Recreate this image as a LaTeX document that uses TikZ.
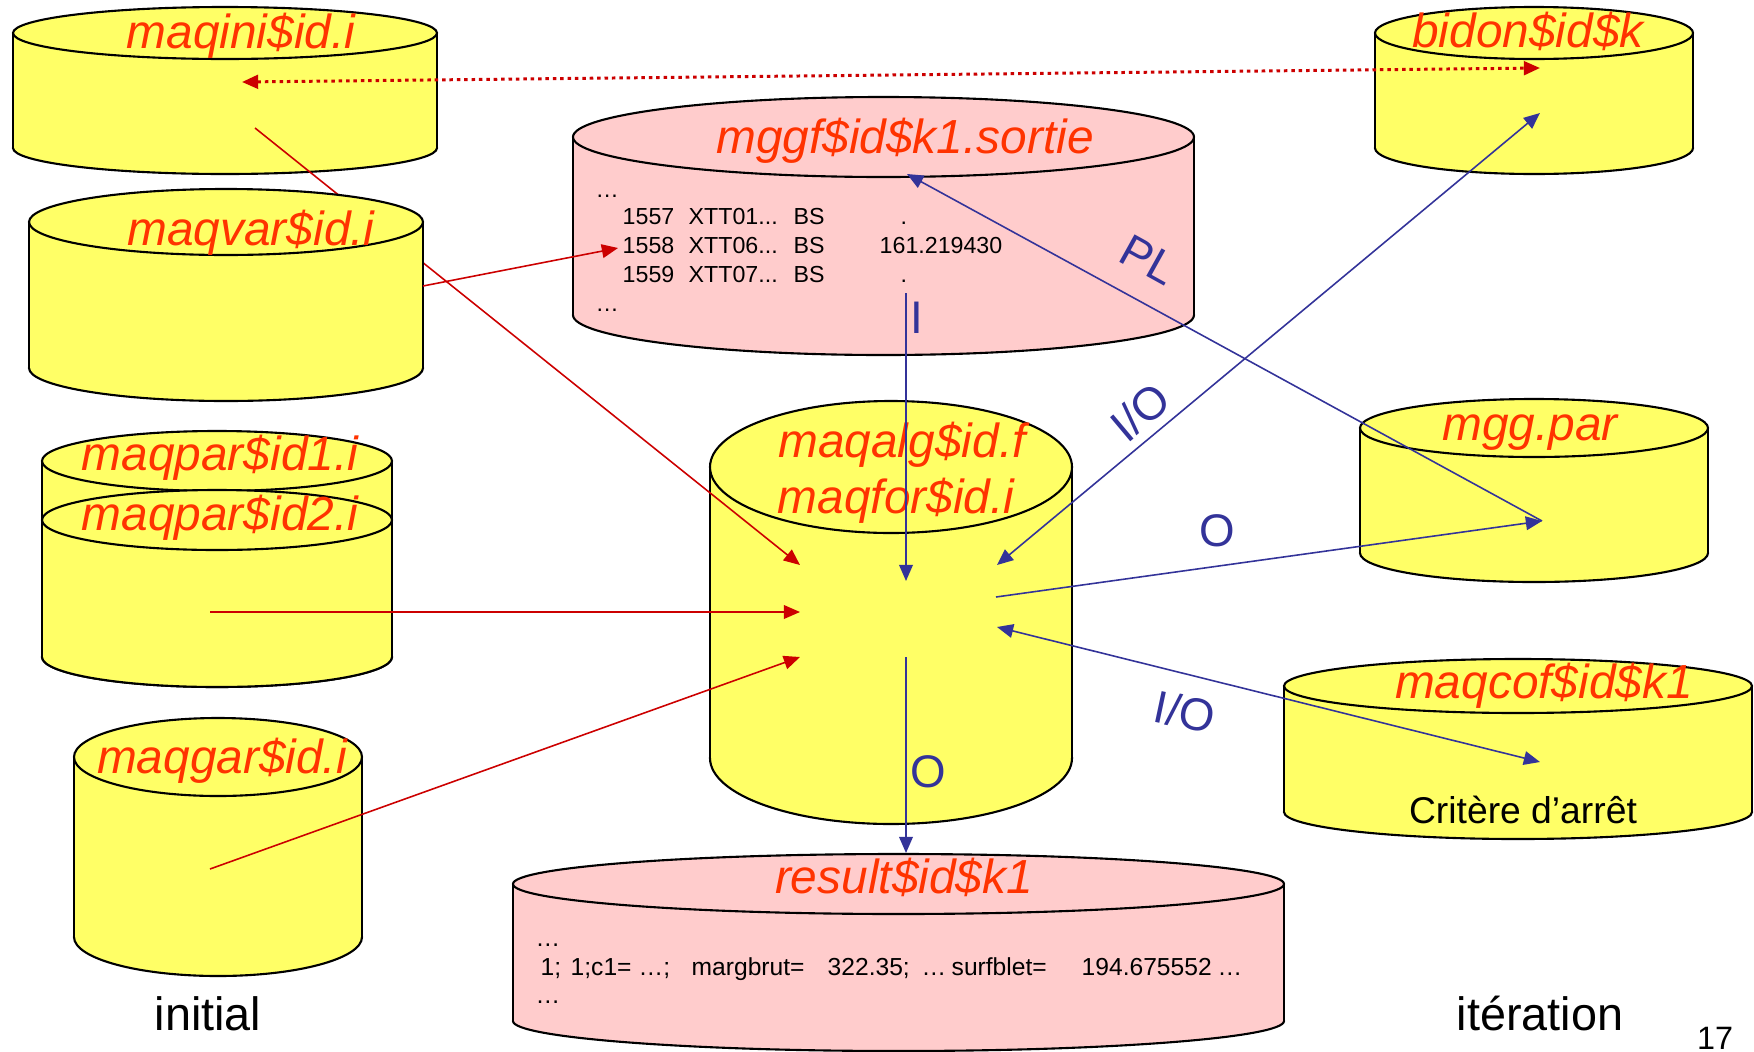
\documentclass[tikz,border=0pt]{standalone}
\usepackage{fontspec}
\setmainfont{Liberation Sans}
\usetikzlibrary{arrows.meta}

\definecolor{drumyellow}{RGB}{255,255,102}
\definecolor{drumpink}{RGB}{255,204,204}
\definecolor{labelred}{RGB}{255,51,0}
\definecolor{flowred}{RGB}{204,0,0}
\definecolor{flowblue}{RGB}{51,51,153}

% Drum (disk file) symbol: #1 centre x, #2 top y, #3 bottom y, #4 x radius, #5 y radius, #6 fill
\newcommand\drum[6]{%
  \filldraw[drumline, fill=#6] (#1,#3) ellipse [x radius=#4, y radius=#5];
  \fill[#6] (#1-#4,#2) rectangle (#1+#4,#3);
  \draw[drumline] (#1-#4,#2) -- (#1-#4,#3) (#1+#4,#2) -- (#1+#4,#3);
  \filldraw[drumline, fill=#6] (#1,#2) ellipse [x radius=#4, y radius=#5];
}

\begin{document}
\begin{tikzpicture}[x=0.01cm, y={(0,-0.01cm)},
  drumline/.style={draw=black, line width=0.6pt},
  filelab/.style={anchor=base, inner sep=0pt, text=labelred,
    font=\fontsize{13.6}{16}\selectfont\itshape},
  plainlab/.style={anchor=base, inner sep=0pt,
    font=\fontsize{13.3}{16}\selectfont},
  flowlab/.style={inner sep=0pt, text=flowblue,
    font=\fontsize{13}{16}\selectfont},
  listing/.style={anchor=base west, inner sep=0pt,
    font=\fontsize{6.6}{8}\selectfont},
  reslisting/.style={anchor=base west, inner sep=0pt,
    font=\fontsize{7}{8}\selectfont},
  tip/.style={-{Triangle[length=4.6pt,width=3.9pt]}},
  bothtips/.style={{Triangle[length=4.6pt,width=3.9pt]}-{Triangle[length=4.6pt,width=3.9pt]}},
  redflow/.style={draw=flowred, line width=0.45pt},
  blueflow/.style={draw=flowblue, line width=0.45pt},
]
\path[use as bounding box] (0,0) rectangle (1754,1051);

% ---- connection points inside the drums
\coordinate (ini-dot)  at (242,82);
\coordinate (ini-out)  at (255,128);
\coordinate (var-out)  at (423,286);
\coordinate (par-out)  at (210,612);
\coordinate (gar-out)  at (210,869);
\coordinate (alg-in1)  at (800,565);
\coordinate (alg-in2)  at (800,612);
\coordinate (alg-in3)  at (800,657);
\coordinate (alg-top)  at (906,581);
\coordinate (alg-bot)  at (906,657);
\coordinate (alg-r1)   at (997,565);
\coordinate (alg-r2)   at (996,597);
\coordinate (alg-r3)   at (997,627);
\coordinate (ggf-in)   at (618,248);
\coordinate (ggf-tip)  at (907,174);
\coordinate (ggf-out)  at (906,293);
\coordinate (bid-dot)  at (1540,68);
\coordinate (bid-io)   at (1540,113);
\coordinate (par-pt)   at (1542,521);
\coordinate (cof-io)   at (1540,762);
\coordinate (res-in)   at (906,853);

% ---- initial files (left column) and the central drum
\drum{225}{33}{148}{212}{26}{drumyellow}
\node[filelab] (lab-ini) at (241,48) {maqini\$id.i};

\drum{891}{467}{758}{181}{66}{drumyellow}
\node[filelab] (lab-alg) at (902,457) {maqalg\$id.f};
\node[filelab] (lab-for) at (896,513) {maqfor\$id.i};

\draw[redflow, tip] (ini-out) -- (alg-in1);

\drum{226}{222}{368}{197}{33}{drumyellow}
\node[filelab] (lab-var) at (251,245) {maqvar\$id.i};

\drum{217}{461}{657}{175}{30}{drumyellow}
\node[filelab] (lab-par1) at (220,470) {maqpar\$id1.i};
\drum{217}{520}{657}{175}{30}{drumyellow}
\node[filelab] (lab-par2) at (220,530) {maqpar\$id2.i};

\drum{218}{757}{937}{144}{39}{drumyellow}
\node[filelab] (lab-gar) at (222,773) {maqgar\$id.i};

\node[plainlab] (initial) at (208,1030) {initial};

% ---- output drums (pink)
\drum{883.5}{137}{315}{310.5}{40}{drumpink}
\node[filelab] (lab-ggf) at (905,153) {mggf\$id\$k1.sortie};
\node[listing] (g0)  at (595,197) {…};
\node[listing] (g1a) at (622,224) {1557};
\node[listing] (g1b) at (688,224) {XTT01...};
\node[listing] (g1c) at (793,224) {BS};
\node[listing] (g1d) at (900,224) {.};
\node[listing] (g2a) at (622,253) {1558};
\node[listing] (g2b) at (688,253) {XTT06...};
\node[listing] (g2c) at (793,253) {BS};
\node[listing] (g2d) at (879,253) {161.219430};
\node[listing] (g3a) at (622,282) {1559};
\node[listing] (g3b) at (688,282) {XTT07...};
\node[listing] (g3c) at (793,282) {BS};
\node[listing] (g3d) at (900,282) {.};
\node[listing] (g4)  at (595,311) {…};

\drum{898.5}{884}{1021}{385.5}{30}{drumpink}
\node[filelab] (lab-res) at (904,893) {result\$id\$k1};
\node[reslisting] (r0)  at (535,946) {…};
\node[reslisting] (r1)  at (540,975) {1;};
\node[reslisting] (r2)  at (570,975) {1;c1=};
\node[reslisting] (r3)  at (638,975) {…;};
\node[reslisting] (r4)  at (691,975) {margbrut=};
\node[reslisting] (r5)  at (827,975) {322.35;};
\node[reslisting] (r6)  at (921,975) {…};
\node[reslisting] (r7)  at (951,975) {surfblet=};
\node[reslisting] (r8)  at (1081,975) {194.675552};
\node[reslisting] (r9)  at (1217,975) {…};
\node[reslisting] (r10) at (535,1003) {…};

% ---- iteration files (right column)
\drum{1534}{33}{148}{159}{26}{drumyellow}
\node[filelab] (lab-bid) at (1528,47) {bidon\$id\$k};

\drum{1534}{428}{553}{174}{29}{drumyellow}
\node[filelab] (lab-mgg) at (1530,440) {mgg.par};

\drum{1518}{686}{812}{234}{27}{drumyellow}
\node[filelab] (lab-cof) at (1544,698) {maqcof\$id\$k1};
\node[anchor=base, inner sep=0pt, font=\fontsize{10.6}{12}\selectfont] (crit) at (1523,823) {Critère d’arrêt};

\node[plainlab] (iter) at (1540,1030) {itération};
\node[anchor=base, inner sep=0pt, font=\fontsize{9.2}{11}\selectfont] (pagenum) at (1715,1049) {17};

% ---- flows
\draw[redflow, line width=0.85pt, dash pattern=on 1pt off 1.1pt, bothtips] (ini-dot) -- (bid-dot);
\draw[redflow, tip] (var-out) -- (ggf-in);
\draw[redflow, tip] (par-out) -- (alg-in2);
\draw[redflow, tip] (gar-out) -- (alg-in3);

\draw[blueflow, tip] (ggf-out) -- (alg-top);
\draw[blueflow, tip] (par-pt) -- (ggf-tip);
\draw[blueflow, bothtips] (alg-r1) -- (bid-io);
\draw[blueflow, tip] (alg-r2) -- (par-pt);
\draw[blueflow, bothtips] (alg-r3) -- (cof-io);
\draw[blueflow, tip] (alg-bot) -- (res-in);

\node[flowlab] (f-i)   at (917,318) {I};
\node[flowlab, rotate=-29] (f-pl) at (1149,260) {PL};
\node[flowlab, rotate=40] (f-io1) at (1140,412) {I/O};
\node[flowlab] (f-o1)  at (1217,531) {O};
\node[flowlab, rotate=-12] (f-io2) at (1185,712) {I/O};
\node[flowlab] (f-o2)  at (928,772) {O};
\end{tikzpicture}
\end{document}
